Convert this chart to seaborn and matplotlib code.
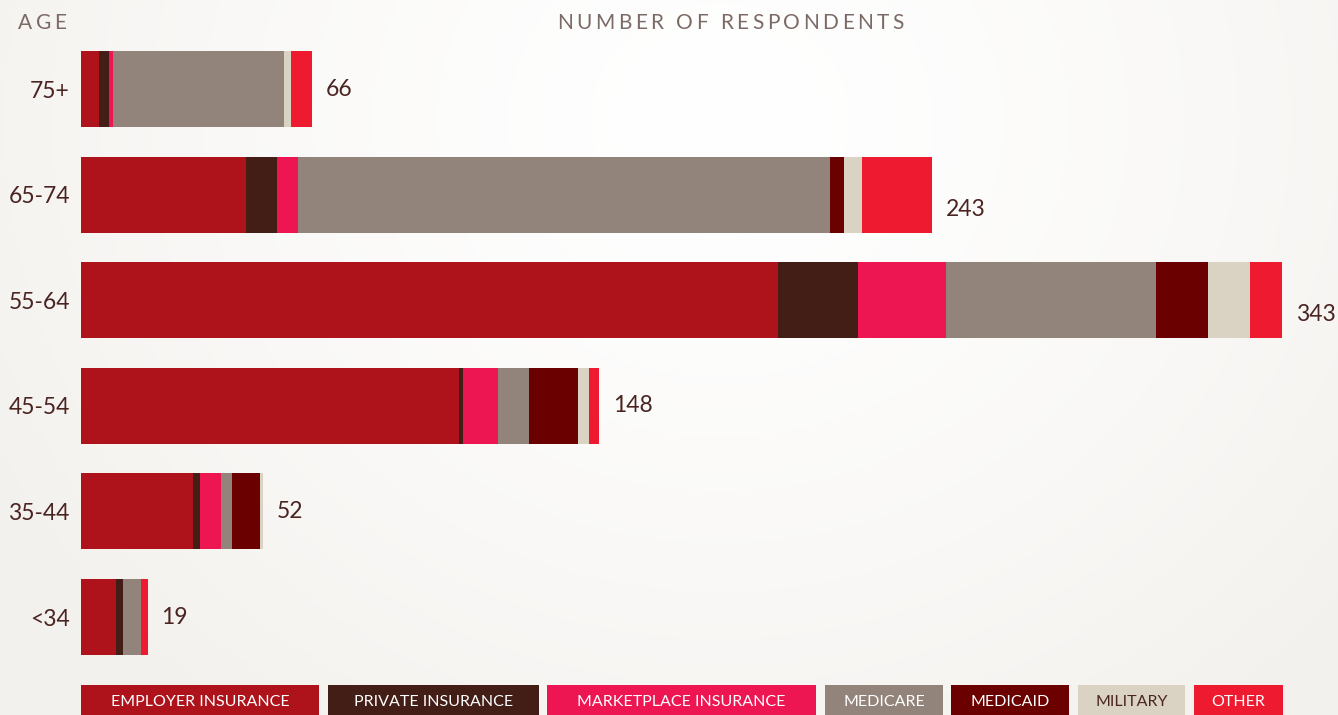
import numpy as np
import pandas as pd
import seaborn as sns
from matplotlib import pyplot as plt
from matplotlib.patches import Rectangle

# values (respondents per age group and coverage type)
ages = ['75+', '65-74', '55-64', '45-54', '35-44', '<34']
categories = ['EMPLOYER INSURANCE', 'PRIVATE INSURANCE', 'MARKETPLACE INSURANCE',
              'MEDICARE', 'MEDICAID', 'MILITARY', 'OTHER']
employer = [5, 47, 199, 108, 32, 10]
private = [3, 9, 23, 1, 2, 2]
marketplace = [1, 6, 25, 10, 6, 0]
medicare = [49, 152, 60, 9, 3, 5]
medicaid = [0, 4, 15, 14, 8, 0]
military = [2, 5, 12, 3, 1, 0]
other = [6, 20, 9, 3, 0, 2]

colors = ['#AE131C', '#431E17', '#ED1652', '#92837B', '#6B0000', '#DAD3C4', '#EE1B30']
text_dark = '#4A2421'
header_col = '#7B6A66'

# label nudges (rows 65-74 and 55-64 have their totals sitting a bit low)
label_nudge = [0, 0.14, 0.14, 0, 0, 0]

W, H = 1338, 715

sns.set_theme(style='white')
plt.rcParams['font.family'] = ['Lato', 'DejaVu Sans']

fig = plt.figure(figsize=(W / 100, H / 100), dpi=100)

# soft radial background
bg = fig.add_axes([0, 0, 1, 1], zorder=-10)
yy, xx = np.mgrid[0:H, 0:W]
r = np.sqrt((xx - 720) ** 2 + ((yy - 120) * 1.1) ** 2)
t = np.clip(r / 850, 0, 1) ** 1.4
edge = np.array([243, 241, 237]) / 255
img = (1 - t[..., None]) * np.array([1.0, 1.0, 1.0]) + t[..., None] * edge
bg.imshow(img, aspect='auto', extent=[0, 1, 0, 1])
bg.axis('off')

# main axes, positioned in pixels
left, right, top, bottom = 81, W, 36.2, 669.8
ax = fig.add_axes([left / W, 1 - bottom / H, (right - left) / W, (bottom - top) / H])
ax.set_facecolor('none')

series = [employer, private, marketplace, medicare, medicaid, military, other]
df = pd.DataFrame({'age': np.repeat(ages, len(categories)),
                   'category': categories * len(ages),
                   'value': np.array(series).T.ravel()})
df['cum'] = df.groupby('age', sort=False)['value'].cumsum()

# stacked bars: draw cumulative totals from the last segment down
for cat, col in reversed(list(zip(categories, colors))):
    sub = df[df['category'] == cat]
    sns.barplot(data=sub, x='cum', y='age', order=ages, color=col, orient='h',
                width=0.72, saturation=1, errorbar=None, linewidth=0, ax=ax)

px_per_unit = 1201 / 343
ax.set_xlim(0, (right - left) / px_per_unit)
ax.set_ylim(5.5, -0.5)

totals = df.groupby('age', sort=False)['value'].sum()
for i, age in enumerate(ages):
    ax.text(totals[age] + 14 / px_per_unit, i + label_nudge[i], str(totals[age]),
            va='center', ha='left', fontsize=16.5, color=text_dark)

ax.set_xlabel('')
ax.set_ylabel('')
ax.set_xticks([])
ax.tick_params(axis='y', length=0, pad=8, labelsize=16.5, labelcolor=text_dark)
sns.despine(ax=ax, left=True, bottom=True)


def spaced_text(x, y, s, spacing, **kw):
    # letter-spaced text, x/y in pixels from top-left
    renderer = fig.canvas.get_renderer()
    for ch in s:
        if ch == ' ':
            x += kw.get('fontsize', 12) * 0.35 + spacing
            continue
        txt = fig.text(x / W, 1 - y / H, ch, va='center', ha='left', **kw)
        w = txt.get_window_extent(renderer).width
        x += w + spacing


spaced_text(18, 23, 'AGE', 3.5, fontsize=15, color=header_col)
spaced_text(557, 23, 'NUMBER OF RESPONDENTS', 3.5, fontsize=15, color=header_col)

# legend boxes along the bottom
legend_edges = [(81, 319), (328, 539), (547, 816), (825, 943),
                (951, 1069), (1078, 1185), (1194, 1283)]
for (x0, x1), cat, col in zip(legend_edges, categories, colors):
    fig.patches.append(Rectangle((x0 / W, 0), (x1 - x0) / W, 30 / H,
                                 transform=fig.transFigure, facecolor=col,
                                 edgecolor='none', zorder=1))
    tc = text_dark if cat == 'MILITARY' else 'white'
    fig.text((x0 + x1) / 2 / W, 1 - 702 / H, cat, ha='center', va='center',
             fontsize=11.5, color=tc, zorder=2)

fig.savefig('out.png', dpi=100)
